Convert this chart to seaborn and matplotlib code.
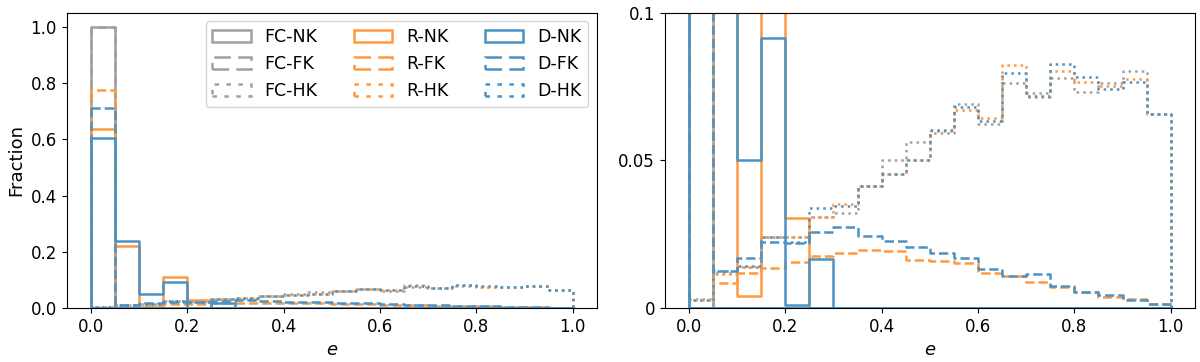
import numpy as np
import pandas as pd
import seaborn as sns
import matplotlib
matplotlib.use("Agg")
import matplotlib.pyplot as plt

# bin edges of the eccentricity histograms (20 bins of 0.05)
edges = list(np.linspace(0, 1, 21))
centers = [0.5 * (a + b) for a, b in zip(edges[:-1], edges[1:])]

# fraction per bin
fc_nk = [1.0] + [0.0] * 19
fc_fk = [1.0] + [0.0] * 19
fc_hk = [0.003, 0.012, 0.014, 0.024, 0.024, 0.031, 0.0321, 0.0414, 0.0502, 0.0563,
         0.0592, 0.069, 0.0624, 0.0762, 0.0729, 0.0778, 0.0732, 0.0763, 0.0802, 0.0656]
r_nk = [0.636, 0.22, 0.0042, 0.109, 0.0304, 0.0, 0.0, 0.0, 0.0, 0.0,
        0.0, 0.0, 0.0, 0.0, 0.0, 0.0, 0.0, 0.0, 0.0, 0.0]
r_fk = [0.775, 0.0085, 0.012, 0.0137, 0.0157, 0.0175, 0.0186, 0.0197, 0.0194, 0.0163,
        0.0158, 0.0152, 0.0118, 0.0107, 0.0087, 0.0071, 0.0056, 0.0039, 0.003, 0.0013]
r_hk = [0.0028, 0.0115, 0.0138, 0.0242, 0.0242, 0.031, 0.0352, 0.0414, 0.0455, 0.0501,
        0.0598, 0.0671, 0.0645, 0.0822, 0.0714, 0.0804, 0.0765, 0.0752, 0.0775, 0.0656]
d_nk = [0.605, 0.237, 0.0502, 0.0913, 0.0009, 0.0166, 0.0, 0.0, 0.0, 0.0,
        0.0, 0.0, 0.0, 0.0, 0.0, 0.0, 0.0, 0.0, 0.0, 0.0]
d_fk = [0.71, 0.0124, 0.0169, 0.0225, 0.0222, 0.0256, 0.0276, 0.0245, 0.0228, 0.0206,
        0.0188, 0.0169, 0.0132, 0.0107, 0.0115, 0.0075, 0.0056, 0.0043, 0.0026, 0.0013]
d_hk = [0.0028, 0.0124, 0.0141, 0.0239, 0.0225, 0.034, 0.0345, 0.0414, 0.0455, 0.0501,
        0.0603, 0.0682, 0.0634, 0.0795, 0.0718, 0.0825, 0.0784, 0.0742, 0.0767, 0.0656]

labels = ["FC-NK", "FC-FK", "FC-HK", "R-NK", "R-FK", "R-HK", "D-NK", "D-FK", "D-HK"]
series = [fc_nk, fc_fk, fc_hk, r_nk, r_fk, r_hk, d_nk, d_fk, d_hk]
# tab colours, slightly faded
colors = ["#a0a0a0"] * 3 + ["#ff993e"] * 3 + ["#4c92c3"] * 3
styles = ["-", "--", ":"] * 3

fig = plt.figure(figsize=(12, 3.62), dpi=100)
ax1 = fig.add_axes([0.0556, 0.149, 0.4417, 0.8157])
ax2 = fig.add_axes([0.554, 0.149, 0.4417, 0.8157])

for ax in (ax1, ax2):
    for lab, vals, c, ls in zip(labels, series, colors, styles):
        df = pd.DataFrame({"e": centers, "w": vals})
        sns.histplot(data=df, x="e", weights="w", bins=edges, element="step",
                     fill=True, color=c, facecolor="none", edgecolor=c,
                     linestyle=ls, linewidth=1.8, label=lab, ax=ax)
    ax.set_xlim(-0.05, 1.05)
    ax.set_xticks([0, 0.2, 0.4, 0.6, 0.8, 1.0])
    ax.set_xlabel("$e$", fontsize=13)
    ax.tick_params(labelsize=12)

ax1.set_ylim(0, 1.05)
ax1.set_ylabel("Fraction", fontsize=13)
ax1.legend(ncol=3, loc="upper right", fontsize=12.5, handlelength=2.2,
           columnspacing=2.1)

ax2.set_ylim(0, 0.1)
ax2.set_yticks([0, 0.05, 0.1])
ax2.set_yticklabels(["0", "0.05", "0.1"])
ax2.set_ylabel("")

fig.savefig("out.png", dpi=100)
